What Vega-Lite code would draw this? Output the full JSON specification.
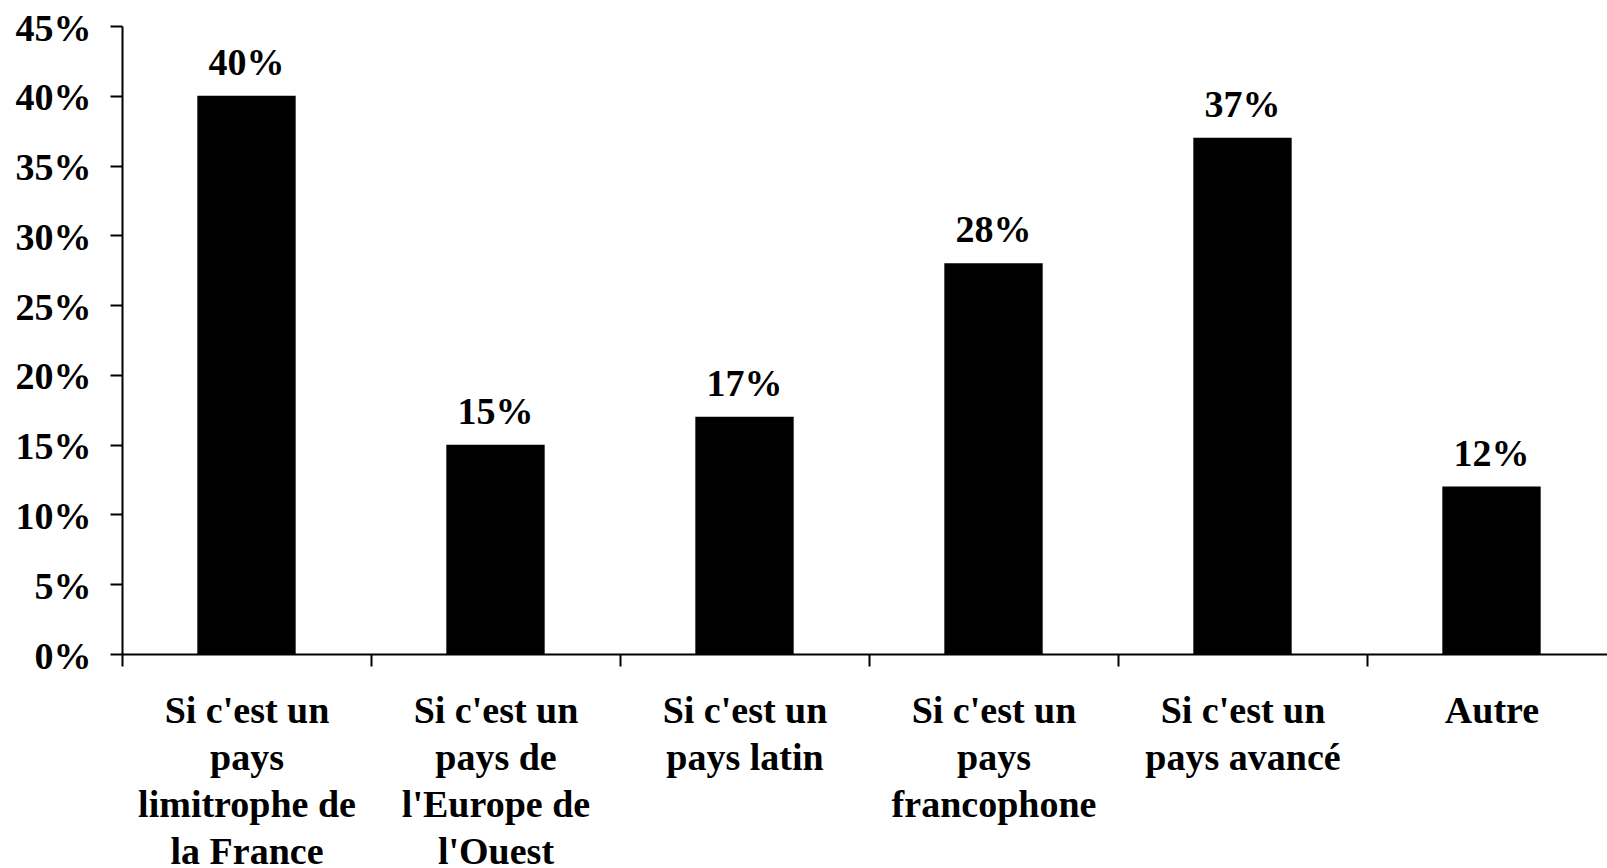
{
  "$schema": "https://vega.github.io/schema/vega-lite/v6.json",
  "autosize": "none",
  "padding": {"left": 122, "top": 26, "right": 0, "bottom": 214},
  "width": 1485,
  "height": 628,
  "background": "white",
  "config": {
    "view": {"stroke": null},
    "font": "Liberation Serif"
  },
  "data": {
    "values": [
      {"categorie": "Si c'est un|pays|limitrophe de|la France", "valeur": 0.40},
      {"categorie": "Si c'est un|pays de|l'Europe de|l'Ouest", "valeur": 0.15},
      {"categorie": "Si c'est un|pays latin", "valeur": 0.17},
      {"categorie": "Si c'est un|pays|francophone", "valeur": 0.28},
      {"categorie": "Si c'est un|pays avancé", "valeur": 0.37},
      {"categorie": "Autre", "valeur": 0.12}
    ]
  },
  "encoding": {
    "x": {
      "field": "categorie",
      "type": "nominal",
      "sort": null,
      "scale": {"range": [0, 1494], "paddingInner": 0, "paddingOuter": 0},
      "axis": {
        "title": null,
        "labelAngle": 0,
        "labelExpr": "split(datum.label, '|')",
        "labelFont": "Liberation Serif",
        "labelFontWeight": "bold",
        "labelFontSize": 38,
        "labelColor": "black",
        "labelLineHeight": 47,
        "labelBaseline": "top",
        "labelPadding": 26,
        "labelLimit": 0,
        "tickBand": "extent",
        "tickSize": 12,
        "tickWidth": 2,
        "tickColor": "black",
        "domainColor": "black",
        "domainWidth": 2,
        "grid": false
      }
    },
    "y": {
      "field": "valeur",
      "type": "quantitative",
      "scale": {"domain": [0, 0.45], "nice": false},
      "axis": {
        "title": null,
        "values": [0, 0.05, 0.1, 0.15, 0.2, 0.25, 0.3, 0.35, 0.4, 0.45],
        "format": ".0%",
        "labelFont": "Liberation Serif",
        "labelFontWeight": "bold",
        "labelFontSize": 38,
        "labelColor": "black",
        "labelPadding": 19,
        "labelOffset": 3,
        "tickSize": 12,
        "tickWidth": 2,
        "tickColor": "black",
        "domainColor": "black",
        "domainWidth": 2,
        "grid": false
      }
    }
  },
  "layer": [
    {"mark": {"type": "bar", "color": "black", "width": {"band": 0.395}}},
    {
      "mark": {"type": "text", "baseline": "alphabetic", "dy": -21, "font": "Liberation Serif", "fontWeight": "bold", "fontSize": 38, "color": "black"},
      "encoding": {"text": {"field": "valeur", "type": "quantitative", "format": ".0%"}}
    }
  ]
}
